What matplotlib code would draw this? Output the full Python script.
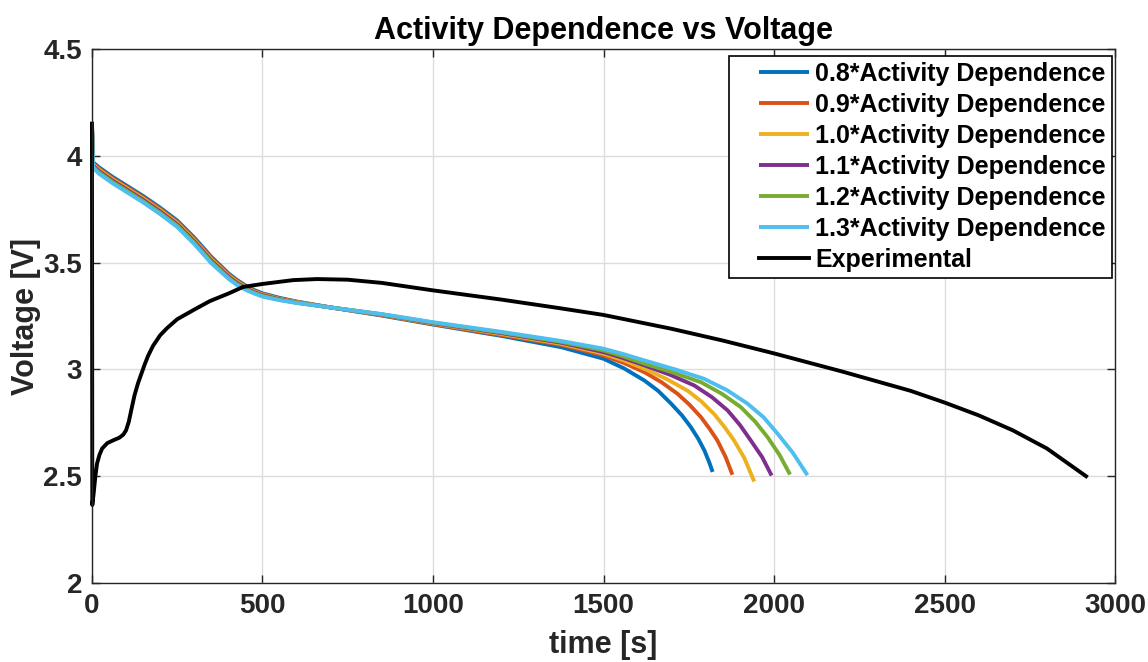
import matplotlib
matplotlib.use("Agg")
import matplotlib.pyplot as plt
from matplotlib.legend_handler import HandlerLine2D

plt.rcParams['font.family'] = ['Liberation Sans', 'DejaVu Sans']

labels = ["0.8*Activity Dependence", "0.9*Activity Dependence", "1.0*Activity Dependence",
          "1.1*Activity Dependence", "1.2*Activity Dependence", "1.3*Activity Dependence"]
colors = ["#0072BD", "#D95319", "#EDB120", "#7E2F8E", "#77AC30", "#4DBEEE"]

t_early = [0, 3, 20, 60, 100, 150, 200, 250, 300, 350, 400, 425, 450, 475, 500, 550, 600, 700, 850,
           1000, 1200, 1376, 1500, 1560, 1620]

t_08 = t_early + [1660, 1698, 1730, 1756, 1778, 1796, 1810, 1820]
v_08 = [4.15, 3.97, 3.947, 3.902, 3.862, 3.812, 3.757, 3.697, 3.617, 3.527, 3.45, 3.419, 3.393, 3.372,
        3.356, 3.335, 3.318, 3.29, 3.252, 3.21, 3.157, 3.104, 3.05, 3.005, 2.948,
        2.90, 2.84, 2.785, 2.73, 2.675, 2.62, 2.565, 2.52]

t_09 = t_early + [1670, 1717, 1752, 1786, 1812, 1834, 1858, 1878]
v_09 = [4.15, 3.965, 3.941, 3.896, 3.856, 3.806, 3.751, 3.691, 3.611, 3.521, 3.445, 3.415, 3.389, 3.368,
        3.353, 3.332, 3.316, 3.29, 3.254, 3.212, 3.161, 3.115, 3.066, 3.03, 2.987,
        2.94, 2.886, 2.835, 2.776, 2.72, 2.667, 2.59, 2.507]

t_10 = t_early + [1685, 1747, 1787, 1825, 1855, 1883, 1913, 1942]
v_10 = [4.15, 3.96, 3.935, 3.89, 3.85, 3.80, 3.745, 3.685, 3.605, 3.515, 3.44, 3.41, 3.385, 3.365,
        3.35, 3.33, 3.315, 3.29, 3.256, 3.215, 3.166, 3.12, 3.074, 3.042, 3.003,
        2.955, 2.90, 2.85, 2.79, 2.73, 2.667, 2.585, 2.475]

t_11 = t_early + [1695, 1766, 1818, 1864, 1900, 1932, 1965, 1993]
v_11 = [4.15, 3.955, 3.929, 3.884, 3.844, 3.794, 3.739, 3.679, 3.599, 3.509, 3.435, 3.405, 3.381, 3.362,
        3.347, 3.328, 3.313, 3.29, 3.257, 3.217, 3.17, 3.125, 3.081, 3.052, 3.019,
        2.975, 2.925, 2.87, 2.808, 2.74, 2.667, 2.59, 2.503]

t_12 = t_early + [1705, 1786, 1848, 1903, 1945, 1981, 2016, 2047]
v_12 = [4.15, 3.95, 3.923, 3.878, 3.838, 3.788, 3.733, 3.673, 3.593, 3.503, 3.43, 3.40, 3.377, 3.359,
        3.344, 3.326, 3.312, 3.29, 3.258, 3.219, 3.173, 3.129, 3.089, 3.06, 3.027,
        2.985, 2.94, 2.885, 2.823, 2.755, 2.683, 2.60, 2.508]

t_13 = t_early + [1710, 1795, 1862, 1922, 1970, 2010, 2055, 2098]
v_13 = [4.16, 3.945, 3.917, 3.872, 3.832, 3.782, 3.727, 3.667, 3.587, 3.497, 3.425, 3.395, 3.373, 3.356,
        3.341, 3.324, 3.311, 3.29, 3.259, 3.221, 3.176, 3.133, 3.097, 3.071, 3.042,
        3.0, 2.956, 2.903, 2.84, 2.775, 2.70, 2.61, 2.505]

t_exp = [0, 1, 5, 10, 15, 22, 30, 45, 65, 80, 92, 100, 108, 116, 125, 135, 145, 155, 165, 179, 200,
         220, 250, 300, 346, 400, 443, 500, 590, 660, 750, 850, 1000, 1200, 1370, 1500, 1700, 1850,
         2000, 2200, 2400, 2500, 2600, 2700, 2800, 2915]
v_exp = [4.15, 2.365, 2.42, 2.50, 2.56, 2.60, 2.63, 2.655, 2.67, 2.68, 2.695, 2.715, 2.755, 2.815,
         2.88, 2.935, 2.98, 3.025, 3.065, 3.11, 3.16, 3.193, 3.235, 3.28, 3.32, 3.355, 3.386, 3.40,
         3.418, 3.423, 3.42, 3.405, 3.37, 3.327, 3.287, 3.255, 3.19, 3.135, 3.075, 2.99, 2.90, 2.845,
         2.785, 2.715, 2.63, 2.50]

series_t = [t_08, t_09, t_10, t_11, t_12, t_13]
series_v = [v_08, v_09, v_10, v_11, v_12, v_13]


class ShiftedLine(HandlerLine2D):
    """Legend line drawn on the right part of the handle box (MATLAB-like spacing)."""
    def create_artists(self, legend, orig_handle, xdescent, ydescent, width, height, fontsize, trans):
        shift = 0.96 * fontsize
        return super().create_artists(legend, orig_handle, xdescent - shift, ydescent,
                                      width - shift, height, fontsize, trans)


fig = plt.figure(figsize=(11.48, 6.62), dpi=100)
ax = fig.add_axes([0.0801, 0.1193, 0.8912, 0.8067])

handles = []
for t, v, c, lab in zip(series_t, series_v, colors, labels):
    h, = ax.plot(t, v, color=c, lw=2.8, label=lab, solid_capstyle='butt', solid_joinstyle='round',
                 clip_on=False)
    handles.append(h)
h, = ax.plot(t_exp, v_exp, color='black', lw=2.8, label="Experimental", solid_joinstyle='round',
             clip_on=False)
handles.append(h)

ax.set_xlim(0, 3000)
ax.set_ylim(2, 4.5)
ax.set_xticks([0, 500, 1000, 1500, 2000, 2500, 3000])
ax.set_yticks([2, 2.5, 3, 3.5, 4, 4.5])
ax.set_yticklabels(["2", "2.5", "3", "3.5", "4", "4.5"])
ax.grid(True, color='#dcdcdc', lw=1.0)
ax.set_axisbelow(True)
ax.tick_params(direction='in', top=True, right=True, length=6, width=1.0,
               labelsize=20, colors='#262626', pad=7)
for lab in ax.get_xticklabels() + ax.get_yticklabels():
    lab.set_fontweight('bold')
for s in ax.spines.values():
    s.set_color('#262626')
    s.set_linewidth(1.0)

ax.set_xlabel("time [s]", fontsize=22, fontweight='bold', color='#262626', labelpad=8)
ax.set_ylabel("Voltage [V]", fontsize=22, fontweight='bold', color='#262626', labelpad=1.5)
ax.set_title("Activity Dependence vs Voltage", fontsize=22, fontweight='bold', color='black', pad=7)

leg = ax.legend(handles=handles, loc='upper right', bbox_to_anchor=(1 - 3 / 1023, 1 - 7 / 534),
                borderaxespad=0, prop={'weight': 'bold', 'size': 18}, frameon=True, fancybox=False,
                edgecolor='black', framealpha=1, handlelength=2.96, labelspacing=0.28,
                handletextpad=0.24, borderpad=0.25,
                handler_map={h: ShiftedLine() for h in handles})
leg.get_frame().set_linewidth(1.2)

fig.savefig("out.png", dpi=100)
